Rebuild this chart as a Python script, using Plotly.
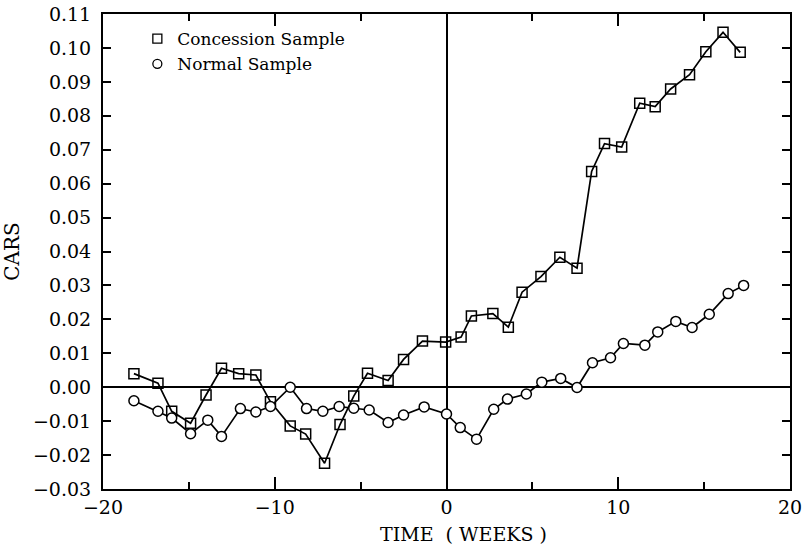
import plotly.graph_objects as go

# Cumulative abnormal returns by week relative to the event
conc_weeks = [-18.2, -16.8, -16.0, -14.9, -14.0, -13.1, -12.1, -11.1, -10.25, -9.1,
              -8.2, -7.1, -6.2, -5.4, -4.6, -3.4, -2.5, -1.4, -0.05, 0.85,
              1.45, 2.7, 3.6, 4.4, 5.5, 6.6, 7.6, 8.45, 9.2, 10.2,
              11.25, 12.15, 13.05, 14.15, 15.1, 16.1, 17.1]
conc_cars = [0.004, 0.0012, -0.0071, -0.0106, -0.0023, 0.0056, 0.004, 0.0036, -0.0043, -0.0114,
             -0.0138, -0.0224, -0.011, -0.0026, 0.0041, 0.002, 0.0082, 0.0136, 0.0133, 0.0148,
             0.021, 0.0217, 0.0177, 0.028, 0.0326, 0.0383, 0.0351, 0.0636, 0.0718, 0.0708,
             0.0837, 0.0827, 0.0879, 0.0921, 0.0989, 0.1046, 0.0987]

norm_weeks = [-18.2, -16.8, -16.0, -14.9, -13.9, -13.1, -12.0, -11.1, -10.25, -9.1,
              -8.15, -7.2, -6.25, -5.4, -4.5, -3.4, -2.5, -1.3, 0.0, 0.8,
              1.75, 2.75, 3.55, 4.65, 5.55, 6.65, 7.6, 8.5, 9.55, 10.3,
              11.55, 12.3, 13.35, 14.3, 15.3, 16.4, 17.3]
norm_cars = [-0.004, -0.0071, -0.0091, -0.0137, -0.0097, -0.0145, -0.0063, -0.0073, -0.0057, 0.0,
             -0.0063, -0.0071, -0.0057, -0.0062, -0.0067, -0.0104, -0.0082, -0.0058, -0.0079, -0.0119,
             -0.0153, -0.0065, -0.0035, -0.002, 0.0015, 0.0026, -0.0001, 0.0072, 0.0087, 0.0129,
             0.0124, 0.0163, 0.0194, 0.0176, 0.0215, 0.0276, 0.030]

x_ticks = [-20, -10, 0, 10, 20]
y_ticks = [round(-0.03 + 0.01 * i, 2) for i in range(15)]

FONT = "DejaVu Serif"
line_style = dict(color="black", width=1.7)

fig = go.Figure()

fig.add_trace(go.Scatter(
    x=conc_weeks, y=conc_cars, mode="lines+markers", showlegend=False,
    line=line_style,
    marker=dict(symbol="square-open", size=10, color="black", line=dict(width=1.5)),
))
fig.add_trace(go.Scatter(
    x=norm_weeks, y=norm_cars, mode="lines+markers", showlegend=False,
    line=line_style,
    marker=dict(symbol="circle", size=10, color="white", line=dict(color="black", width=1.5)),
))

# Legend entries show the marker only
fig.add_trace(go.Scatter(
    x=[None], y=[None], mode="markers", name="Concession Sample",
    marker=dict(symbol="square-open", size=9, color="black", line=dict(width=1.3)),
))
fig.add_trace(go.Scatter(
    x=[None], y=[None], mode="markers", name="Normal Sample",
    marker=dict(symbol="circle", size=9, color="white", line=dict(color="black", width=1.3)),
))

axis_common = dict(
    showgrid=False, showline=True, linecolor="black", linewidth=2,
    mirror="allticks", ticks="inside", tickcolor="black", tickwidth=1.5,
    zeroline=True, zerolinecolor="black", zerolinewidth=1.7,
    tickfont=dict(family=FONT, size=19, color="black"),
    automargin=False,
)

fig.update_xaxes(
    **axis_common, range=[-20, 20], tickvals=x_ticks, ticklen=12,
    minor=dict(dtick=5, tick0=0, ticks="inside", ticklen=7, tickcolor="black", tickwidth=1.5, showgrid=False),
)
fig.update_yaxes(
    **axis_common, range=[-0.03, 0.11], tickvals=y_ticks, tickformat=".2f", ticklen=8,
    ticklabelstandoff=6,
    title=dict(text="CARS", font=dict(family=FONT, size=20, color="black"), standoff=10),
)

fig.add_annotation(
    text="TIME  ( WEEKS )", xref="paper", yref="paper", x=0.525, y=-0.095,
    xanchor="center", yanchor="middle", showarrow=False,
    font=dict(family=FONT, size=19, color="black"),
)

fig.update_layout(
    width=807, height=550,
    margin=dict(l=103, r=17, t=14, b=61),
    paper_bgcolor="white", plot_bgcolor="white",
    legend=dict(x=0.05, y=0.985, xanchor="left", yanchor="top",
                font=dict(family=FONT, size=17, color="black"),
                bgcolor="rgba(0,0,0,0)", tracegroupgap=0, itemwidth=30),
)

fig.write_html("out.html")
